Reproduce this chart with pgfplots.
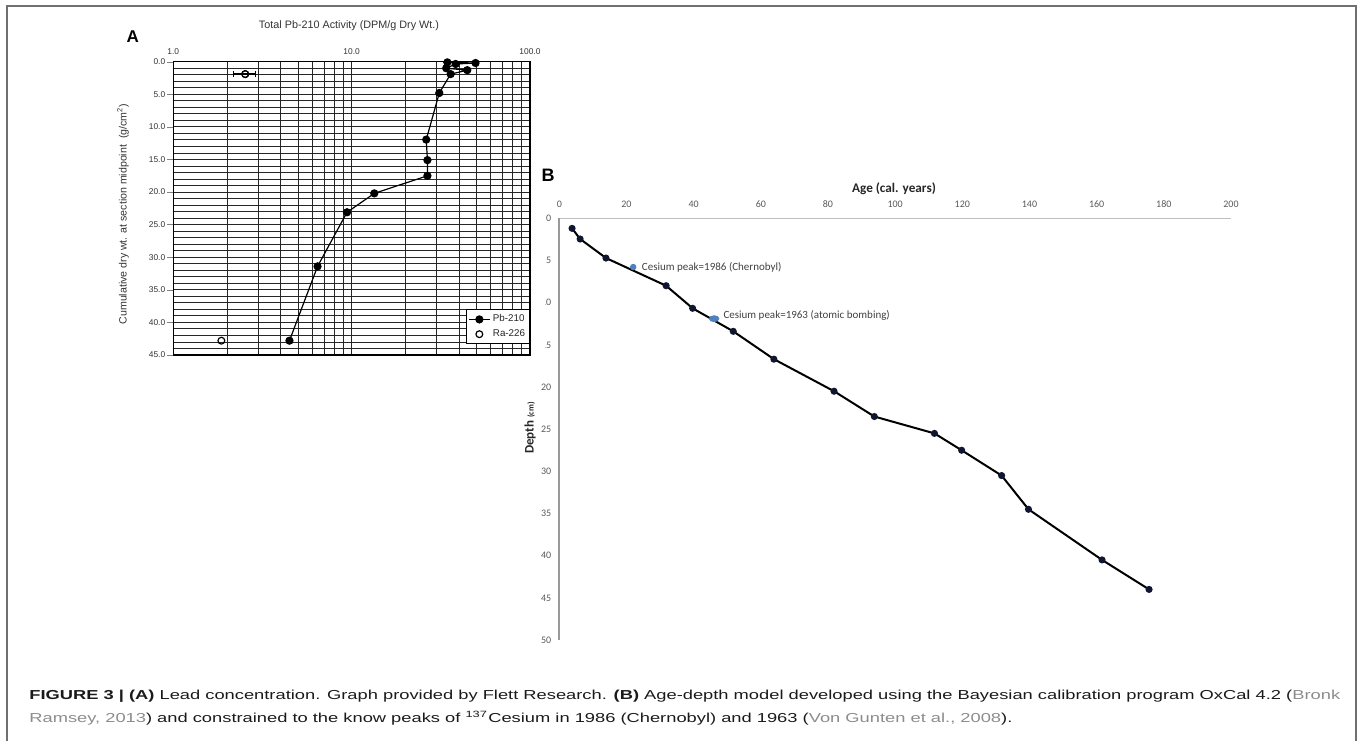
\documentclass[border=0pt]{standalone}
\usepackage{pgfplots}
\pgfplotsset{compat=1.18}
\usepackage{fontspec}
\setmainfont{Liberation Sans}
\newfontfamily\calibri{Carlito}
\definecolor{framegray}{HTML}{707070}
\definecolor{tickgray}{HTML}{595959}
\definecolor{agray}{HTML}{333333}
\definecolor{excelblue}{HTML}{4F81BD}
\definecolor{linkgray}{HTML}{8C8C8C}
\definecolor{ptnavy}{HTML}{0F1630}
\definecolor{captext}{HTML}{1A1A1A}
\begin{document}
\begin{tikzpicture}[x=0.5pt,y=-0.5pt]
\path[use as bounding box] (0,0) rectangle (1360,741);
\draw[framegray,line width=1pt] (7,741) -- (7,6) -- (1356,6) -- (1356,741);

% ---------------- Panel B ----------------
\begin{axis}[
  at={(279.65pt,-320pt)}, anchor=south west,
  scale only axis, width=335.85pt, height=210.85pt,
  xmin=0, xmax=200, ymin=0, ymax=50, y dir=reverse,
  xtick={0,20,...,200}, ytick={0,5,...,50},
  axis x line*=top, axis y line*=left,
  x axis line style={draw=black!25, line width=0.6pt, -},
  y axis line style={draw=black!40, line width=1pt, -},
  major tick length=0pt,
  tick label style={font=\calibri\fontsize{5}{6}\selectfont, text=tickgray},
  xticklabel style={yshift=2pt},
  yticklabel style={xshift=-0.5pt},
  /pgf/number format/assume math mode=true,
  clip=false,
]
\addplot[black, line width=1pt, mark=*, mark size=1.25pt, mark options={draw=ptnavy, fill=ptnavy}] coordinates {
(3.8,1.19) (6.2,2.45) (13.9,4.71) (31.8,7.99) (39.7,10.67) (51.8,13.4)
(63.9,16.7) (81.8,20.5) (93.8,23.5) (111.7,25.5) (119.8,27.5) (131.7,30.5)
(139.7,34.5) (161.6,40.5) (175.6,44.0)};
\addplot[only marks, mark=*, mark size=1.4pt, draw=excelblue, fill=excelblue] coordinates {(22.0,5.78)};
\addplot[only marks, mark=*, mark size=1.5pt, draw=excelblue, fill=excelblue, mark options={xscale=1.6}] coordinates {(46.1,11.9)};
\node[anchor=west, inner sep=0pt, xshift=4.2pt, font=\calibri\fontsize{5.5}{6.5}\selectfont, text=black!75] at (axis cs:22.0,5.78) {Cesium peak=1986 (Chernobyl)};
\node[anchor=west, inner sep=0pt, xshift=4.5pt, yshift=1.7pt, font=\calibri\fontsize{5.5}{6.5}\selectfont, text=black!75] at (axis cs:46.1,11.9) {Cesium peak=1963 (atomic bombing)};
\end{axis}
\node[font=\calibri\bfseries\fontsize{6.6}{8}\selectfont, text=black!85] at (894,189) {Age (cal. years)};
\node[rotate=90, font=\calibri\bfseries\fontsize{6.5}{8}\selectfont, text=black!85] at (530,428) {Depth {\fontsize{4.2}{5}\selectfont(cm)}};
\node[font=\bfseries\fontsize{9}{10}\selectfont] at (548,175) {B};

% cover of panel A's picture over B's labels
\fill[white] (533,228) rectangle (544.5,358);

% ---------------- Panel A ----------------
\begin{axis}[
  at={(86.65pt,-177.5pt)}, anchor=south west,
  scale only axis, width=178.35pt, height=146.65pt,
  xmode=log, xmin=1, xmax=100, ymin=0, ymax=45, y dir=reverse,
  xtick={1,10,100}, xticklabels={1.0,10.0,100.0},
  ytick={0,5,...,45}, minor y tick num=4,
  yticklabel={\pgfmathprintnumber[fixed,fixed zerofill,precision=1]{\tick}},
  grid=both,
  grid style={black!85, line width=0.45pt},
  minor grid style={black!85, line width=0.45pt},
  major grid style={black!85, line width=0.45pt},
  axis line style={black, line width=0.6pt},
  xticklabel pos=upper,
  ytick pos=left, xtick pos=upper,
  tick align=outside, major tick length=3pt, minor tick length=0pt,
  xtick style={draw=none},
  tick label style={font=\fontsize{4.2}{5}\selectfont, text=agray},
  xticklabel style={yshift=-3pt},
  yticklabel style={xshift=2.5pt},
  /pgf/number format/assume math mode=true,
  legend style={at={(1,0.0375)}, anchor=south east, draw=black, line width=0.5pt,
    font=\fontsize{4.9}{5.5}\selectfont, text=black!85, inner sep=1pt, row sep=0pt,
    nodes={inner sep=1.2pt}, cells={anchor=west}},
  legend image code/.code={\draw[mark repeat=2, mark phase=2, #1] plot coordinates {(0pt,0pt) (5.3pt,0pt) (10.6pt,0pt)};},
]
\addplot[black, line width=0.6pt, mark=*, mark size=1.75pt] coordinates {
(34.4,0.1) (49.5,0.2) (38.3,0.35) (33.9,1.0) (44.5,1.3) (35.9,1.9) (31.0,4.8)
(26.2,11.95) (26.6,15.1) (26.6,17.5) (13.4,20.2) (9.42,23.1) (6.44,31.4) (4.48,42.8)};
\addlegendentry{Pb-210}
\addplot[only marks, mark=o, mark size=1.7pt, black, line width=0.6pt, mark options={fill=white},
  error bars/.cd, x dir=both, x explicit, error bar style={line width=0.7pt}, error mark options={rotate=90, mark size=1.5pt, line width=0.7pt}]
  coordinates {(2.53,1.9) +- (0.355,0)};
\addlegendentry{Ra-226}
\addplot[only marks, mark=o, mark size=1.7pt, black, line width=0.6pt, mark options={fill=white}, forget plot]
  coordinates {(2.53,1.9) (1.86,42.8)};
\end{axis}
\node[font=\fontsize{5.4}{6.5}\selectfont, text=agray] at (349,26) {Total Pb-210 Activity (DPM/g Dry Wt.)};
\node[rotate=90, font=\fontsize{5.3}{6.5}\selectfont, text=agray] at (123,214) {Cumulative dry wt. at section midpoint\ \ (g/cm\textsuperscript{2})};
\node[font=\bfseries\fontsize{8.5}{10}\selectfont] at (132.7,37) {A};

% ---------------- Caption ----------------
\node[anchor=base west, inner sep=0pt, text=captext] at (29,699) {\scalebox{1.408}[1]{\fontsize{6.5}{8}\selectfont \textbf{FIGURE 3 | (A)} Lead concentration. Graph provided by Flett Research. \textbf{(B)} Age-depth model developed using the Bayesian calibration program OxCal 4.2 ({\color{linkgray}Bronk}}};
\node[anchor=base west, inner sep=0pt, text=captext] at (29,722.7) {\scalebox{1.408}[1]{\fontsize{6.5}{8}\selectfont {\color{linkgray}Ramsey, 2013}) and constrained to the know peaks of \textsuperscript{137}Cesium in 1986 (Chernobyl) and 1963 ({\color{linkgray}Von Gunten et al., 2008}).}};
\end{tikzpicture}
\end{document}
